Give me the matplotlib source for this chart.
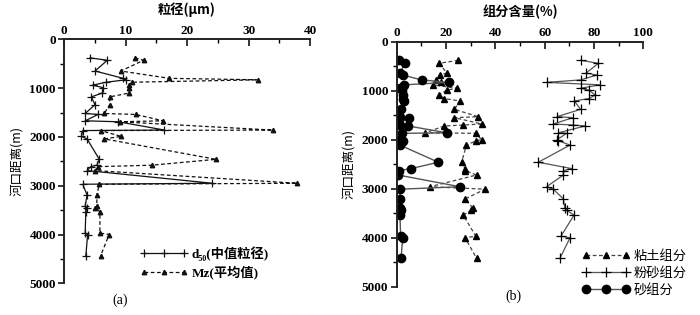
import matplotlib
matplotlib.use("Agg")
import matplotlib.pyplot as plt
from matplotlib.ticker import MultipleLocator

plt.rcParams['font.family'] = ['Liberation Serif', 'Noto Sans CJK SC', 'DejaVu Sans']
plt.rcParams['font.weight'] = 'bold'

# ---------------- data: panel (a) ----------------
dist_a = [380, 430, 650, 800, 830, 880, 940, 990, 1100, 1180, 1340, 1520, 1540, 1670, 1690,
          1860, 1870, 1990, 2040, 2460, 2580, 2610, 2690, 2950, 2970, 3190, 3420, 3460, 3530,
          3970, 4000, 4440]
d50 = [4.2, 7.0, 5.0, 9.6, 10.0, 6.8, 4.6, 6.3, 6.2, 4.4, 5.0, 3.4, 5.5, 3.4, 8.8,
       16.3, 3.0, 2.8, 3.7, 5.7, 5.3, 4.3, 3.7, 24.1, 3.0, 3.7, 3.4, 3.7, 3.5,
       3.4, 3.8, 3.5]
mz = [11.5, 12.9, 9.2, 17.1, 31.6, 11.0, 10.6, 10.6, 10.6, 7.4, 7.4, 6.5, 11.6, 16.1, 9.0,
      33.9, 5.9, 9.3, 6.5, 24.7, 14.2, 5.5, 5.0, 37.9, 5.7, 5.3, 5.3, 5.0, 5.8,
      5.8, 7.3, 5.9]

# ---------------- data: panel (b) ----------------
dist_b = [380, 440, 640, 680, 780, 830, 880, 950, 990, 1090, 1160, 1210, 1380, 1530, 1550,
          1680, 1700, 1720, 1860, 1870, 2000, 2020, 2110, 2460, 2590, 2630, 2720, 2960, 3010,
          3210, 3400, 3440, 3540, 3970, 4000, 4420]
clay = [25.0, 17.3, 20.3, 17.6, 15.9, 17.9, 14.6, 24.4, 20.3, 17.0, 19.3, 25.7, 23.4, 33.0, 23.4,
        34.5, 27.0, 19.3, 11.5, 32.2, 34.4, 32.3, 28.3, 26.3, 27.7, 27.7, 32.4, 13.5, 35.8,
        27.7, 31.0, 30.0, 27.0, 32.1, 27.7, 32.4]
silt = [74.6, 81.8, 76.8, 81.1, 74.6, 60.8, 82.4, 74.6, 78.0, 80.5, 78.0, 72.0, 74.6, 65.0, 71.4,
        63.5, 71.4, 76.4, 65.5, 68.9, 65.0, 65.5, 70.3, 57.4, 71.0, 67.6, 67.6, 60.8, 63.5,
        67.6, 68.2, 68.9, 71.9, 66.6, 70.3, 66.2]
sand = [1.1, 3.4, 1.3, 2.4, 10.1, 21.3, 3.0, 1.3, 2.0, 2.7, 2.5, 3.1, 1.6, 1.3, 5.1,
        0.7, 1.5, 4.7, 20.3, 2.2, 1.1, 2.7, 1.3, 16.9, 5.8, 0.9, 0.5, 25.7, 1.3,
        1.3, 1.3, 1.6, 1.3, 1.6, 2.4, 1.8]

ylabel = "河口距离(m)"

fig = plt.figure(figsize=(7.0, 3.15), dpi=100)
ax1 = fig.add_axes([64.3/700, 1-283.3/315, (310-64.3)/700, (283.3-39.3)/315])
ax2 = fig.add_axes([396.7/700, 1-286.7/315, (643.3-396.7)/700, (286.7-41.7)/315])


def style(ax, xmax, xmajor, xminor):
    ax.set_ylim(5000, 0)
    ax.set_xlim(0, xmax)
    ax.xaxis.tick_top()
    ax.spines['bottom'].set_visible(False)
    ax.spines['right'].set_visible(False)
    for s in ('left', 'top'):
        ax.spines[s].set_linewidth(1.4)
        ax.spines[s].set_color('#222222')
    ax.xaxis.set_major_locator(MultipleLocator(xmajor))
    ax.xaxis.set_minor_locator(MultipleLocator(xminor))
    ax.yaxis.set_major_locator(MultipleLocator(1000))
    ax.yaxis.set_minor_locator(MultipleLocator(500))
    ax.tick_params(axis='x', which='major', direction='in', length=5, width=1.1, pad=2,
                   labelsize=9.5)
    ax.tick_params(axis='x', which='minor', direction='in', length=3, width=1.0)
    ax.tick_params(axis='y', which='major', direction='out', length=4, width=1.1, pad=2,
                   labelsize=9.5)
    ax.tick_params(axis='y', which='minor', direction='out', length=3, width=1.0)
    ax.set_facecolor('none')


# ---- panel (a) ----
style(ax1, 40, 10, 5)
l_d50, = ax1.plot(d50, dist_a, color='#111111', lw=0.9, marker='+', ms=6, mew=0.9)
l_mz, = ax1.plot(mz, dist_a, color='#111111', lw=0.9, ls=(0, (3, 2)), marker='^', ms=3.2)
ax1.set_ylabel(ylabel, family=['Noto Sans CJK SC'], fontsize=9, labelpad=4)
fig.text(187/700, 1-10/315, "粒径(μm)", ha='center', va='center',
         family=['Noto Sans CJK SC', 'DejaVu Sans'], weight='bold', fontsize=9.5)
leg1 = ax1.legend([l_d50, l_mz], ["d₅₀(中值粒径)", "Mz(平均值)"],
                  loc='upper left', bbox_to_anchor=(140/700, 1-246/315),
                  bbox_transform=fig.transFigure, frameon=False, numpoints=3,
                  handlelength=3.6, handletextpad=0.3, labelspacing=0.35,
                  prop=dict(family=['Liberation Serif', 'DejaVu Serif', 'Noto Sans CJK SC'],
                            weight='bold', size=9.5),
                  borderpad=0, borderaxespad=0)
fig.text(120/700, 1-300/315, "(a)", ha='center', va='center',
         family='Liberation Serif', weight='normal', fontsize=10)

# ---- panel (b) ----
style(ax2, 100, 20, 10)
l_clay, = ax2.plot(clay, dist_b, color='#444444', lw=0.9, ls=(0, (3, 2)), marker='^',
                   ms=4, mfc='black', mec='black')
l_silt, = ax2.plot(silt, dist_b, color='#555555', lw=0.9, marker='+', ms=6.5,
                   mew=0.9, mec='black')
l_sand, = ax2.plot(sand, dist_b, color='#555555', lw=1.0, marker='o', ms=6,
                   mfc='black', mec='black')
ax2.set_ylabel(ylabel, family=['Noto Sans CJK SC'], fontsize=9, labelpad=4)
fig.text(520/700, 1-12/315, "组分含量(%)", ha='center', va='center',
         family=['Noto Sans CJK SC', 'DejaVu Sans'], weight='bold', fontsize=9.5)
leg2 = ax2.legend([l_clay, l_silt, l_sand], ["粘土组分", "粉砂组分", "砂组分"],
                  loc='upper left', bbox_to_anchor=(582/700, 1-250/315),
                  bbox_transform=fig.transFigure, frameon=False, numpoints=3,
                  handlelength=3.6, handletextpad=0.3, labelspacing=0.3,
                  prop=dict(family=['Noto Sans CJK SC'], weight='normal', size=9.5),
                  borderpad=0, borderaxespad=0)
fig.text(513/700, 1-296/315, "(b)", ha='center', va='center',
         family='Liberation Serif', weight='normal', fontsize=10)

fig.savefig("out.png", dpi=100)
